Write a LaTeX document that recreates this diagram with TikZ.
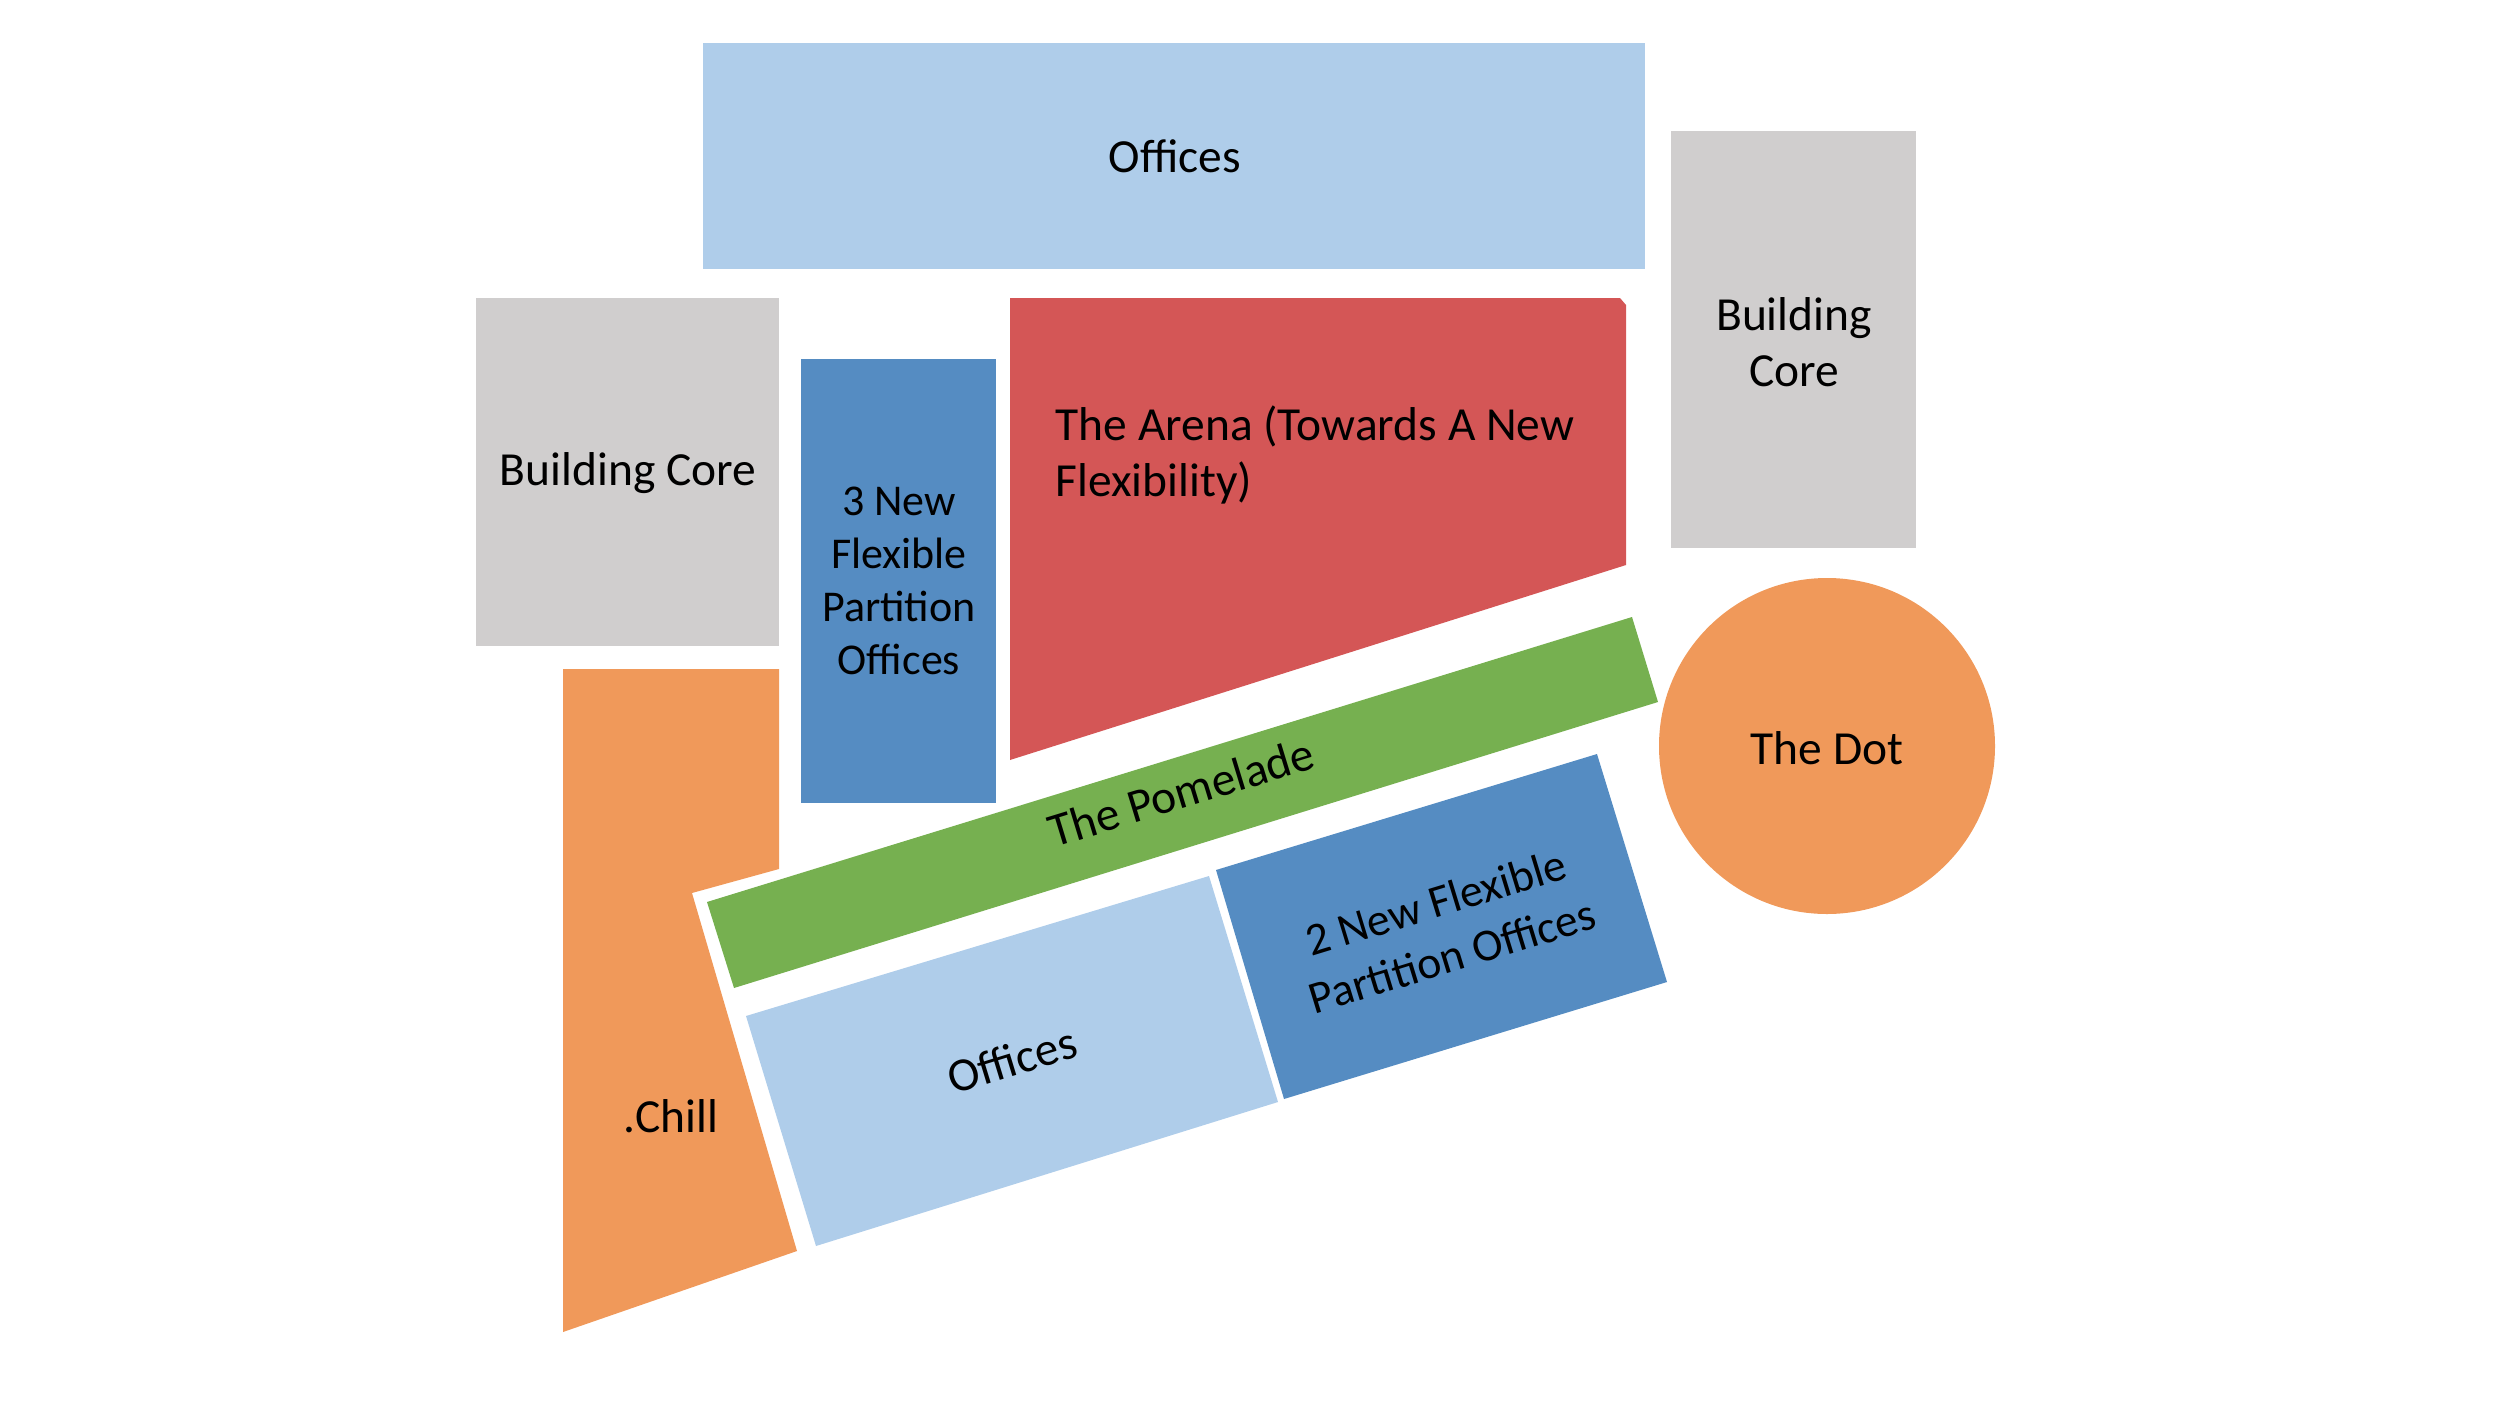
\documentclass[tikz,border=0pt]{standalone}
\usepackage{fontspec}
\setmainfont{Carlito}
\usepackage{xcolor}
\definecolor{planlight}{RGB}{175, 205, 234}
\definecolor{plangray}{RGB}{208, 206, 206}
\definecolor{planblue}{RGB}{85, 140, 194}
\definecolor{planred}{RGB}{212, 86, 86}
\definecolor{plangreen}{RGB}{118, 176, 80}
\definecolor{planorange}{RGB}{240, 153, 90}

\tikzset{
  label/.style={inner sep=0pt, font=\fontsize{13.5}{16}\selectfont},
}

\begin{document}
\begin{tikzpicture}[x=0.01cm, y=-0.01cm]
\useasboundingbox (0,0) rectangle (2500,1406);
% blocks
\fill[planlight] (703,43) rectangle (1645,269);
\fill[plangray] (476,298) rectangle (779,646);
\fill[planblue] (801,359) rectangle (996,803);
\fill[planred] (1010,298) -- (1620,298) -- (1626,305) -- (1626,565) -- (1010,760) -- cycle;
\fill[plangray] (1671,131) rectangle (1916,548);
\fill[planorange] (1827,746) circle (168);
\fill[plangreen] (707,902) -- (1632,617) -- (1658,702) -- (734,988) -- cycle;
\fill[planorange] (563,669) -- (779,669) -- (779,869) -- (692,893) -- (797,1251) -- (563,1332) -- cycle;
\fill[planlight] (746,1016) -- (1209,876) -- (1278,1102) -- (816,1246) -- cycle;
\fill[planblue] (1216,870) -- (1597,754) -- (1667,982) -- (1284,1099) -- cycle;
% labels
\node[label] (topoffices) at (1175,156) {Offices};
\node[label] (leftcore) at (628,473) {Building Core};
\node[label, align=center, font=\fontsize{12.5}{15}\selectfont] (threenew) at (899,581) {3 New\\Flexible\\Partition\\Offices};
\node[label, align=left, anchor=west] (arena) at (1055,455) {The Arena (Towards A New\\Flexibility)};
\node[label, align=center] (rightcore) at (1794,342) {Building\\Core};
\node[label] (dot) at (1827,748) {The Dot};
\node[label, rotate=17] (pomelade) at (1181,792) {The Pomelade};
\node[label, rotate=17, align=center, font=\fontsize{13}{16}\selectfont] (twonew) at (1444,929) {2 New Flexible\\Partition Offices};
\node[label, rotate=17] (lowoffices) at (1012,1060) {Offices};
\node[label] (chill) at (671,1116) {.Chill};
\end{tikzpicture}
\end{document}
